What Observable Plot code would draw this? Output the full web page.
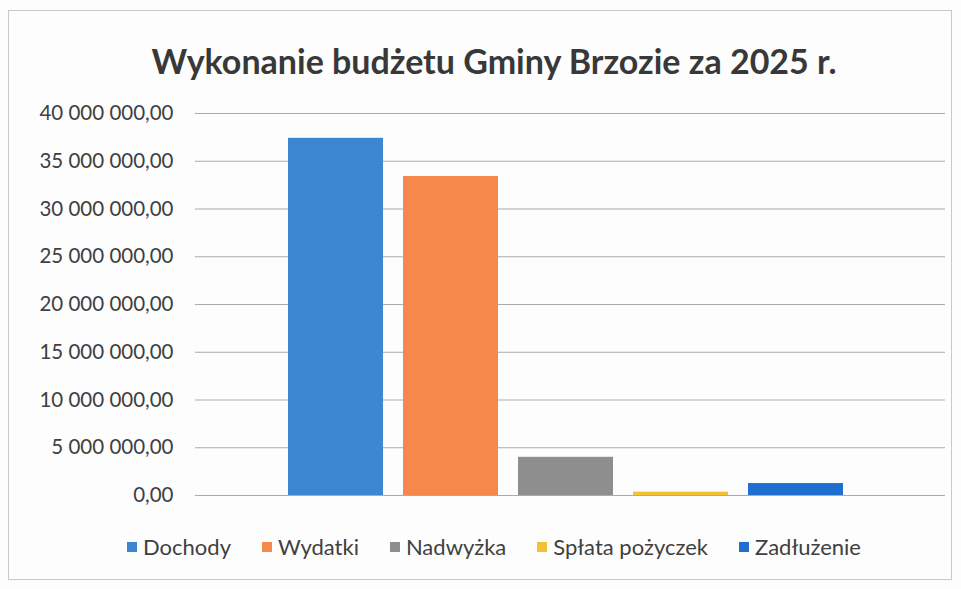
<!DOCTYPE html>
<html>
<head>
<meta charset="utf-8">
<script src="https://cdn.jsdelivr.net/npm/d3@7"></script>
<script src="https://cdn.jsdelivr.net/npm/@observablehq/plot@0.6"></script>
<style>
  html, body { margin: 0; padding: 0; background: #fff; }
  #wrap { position: relative; width: 961px; height: 589px; overflow: hidden; font-family: Lato, "Open Sans", sans-serif; background: #fdfdfd; }
  #frame { position: absolute; left: 8px; top: 10px; width: 944px; height: 570px; border: 1px solid #c9c9c9; box-sizing: border-box; }
  #title { position: absolute; top: 40px; left: 0; width: 988px; text-align: center; font-weight: 700; font-size: 34px; color: #383838; }
  #chart { position: absolute; top: 95px; left: 0; }
  #legend { position: absolute; top: 533px; left: 127px; display: flex; gap: 31px; font-size: 22px; color: #404040; }
  #legend .item { display: flex; align-items: center; gap: 6px; }
  #legend .sw { width: 10px; height: 10px; display: inline-block; }
</style>
</head>
<body>
<div id="wrap">
  <div id="frame"></div>
  <div id="title"></div>
  <div id="chart"></div>
  <div id="legend"></div>
</div>
<script>
const titleText = "Wykonanie budżetu Gminy Brzozie za 2025 r.";
const categories = ["Dochody", "Wydatki", "Nadwyżka", "Spłata pożyczek", "Zadłużenie"];
const values = [37400000, 33400000, 4000000, 350000, 1250000];
const colors = ["#3d87d2", "#f5884a", "#8e8e8e", "#f2c232", "#1f6fd0"];
const yTicks = [0, 5000000, 10000000, 15000000, 20000000, 25000000, 30000000, 35000000, 40000000];

const data = categories.map((c, i) => ({category: c, value: values[i]}));
const pl = d3.formatLocale({decimal: ",", thousands: " ", grouping: [3], currency: ["", ""]});
const fmt = pl.format(",.2f");

document.getElementById("title").textContent = titleText;

const chart = Plot.plot({
  width: 961,
  height: 420,
  marginTop: 18,
  marginBottom: 20,
  marginLeft: 195,
  marginRight: 16,
  style: {fontFamily: "Lato, 'Open Sans', sans-serif", fontSize: "20.5px", color: "#404040", background: "transparent"},
  x: {domain: categories, paddingInner: 0.17, paddingOuter: 0.845, align: 0.478, axis: null},
  y: {domain: [0, 40000000], ticks: yTicks, tickFormat: fmt, tickSize: 0, tickPadding: 22, label: null, grid: false},
  color: {domain: categories, range: colors},
  marks: [
    Plot.gridY(yTicks, {stroke: "#ababab", strokeOpacity: 1, strokeWidth: 1}),
    Plot.barY(data, {x: "category", y: "value", fill: "category"}),
    Plot.axisY(yTicks, {tickFormat: fmt, tickSize: 0, tickPadding: 22, label: null, fill: "#404040"})
  ]
});
document.getElementById("chart").appendChild(chart);

const legend = document.getElementById("legend");
categories.forEach((c, i) => {
  const item = document.createElement("div");
  item.className = "item";
  const sw = document.createElement("span");
  sw.className = "sw";
  sw.style.background = colors[i];
  const t = document.createElement("span");
  t.textContent = c;
  item.appendChild(sw);
  item.appendChild(t);
  legend.appendChild(item);
});
</script>
</body>
</html>
